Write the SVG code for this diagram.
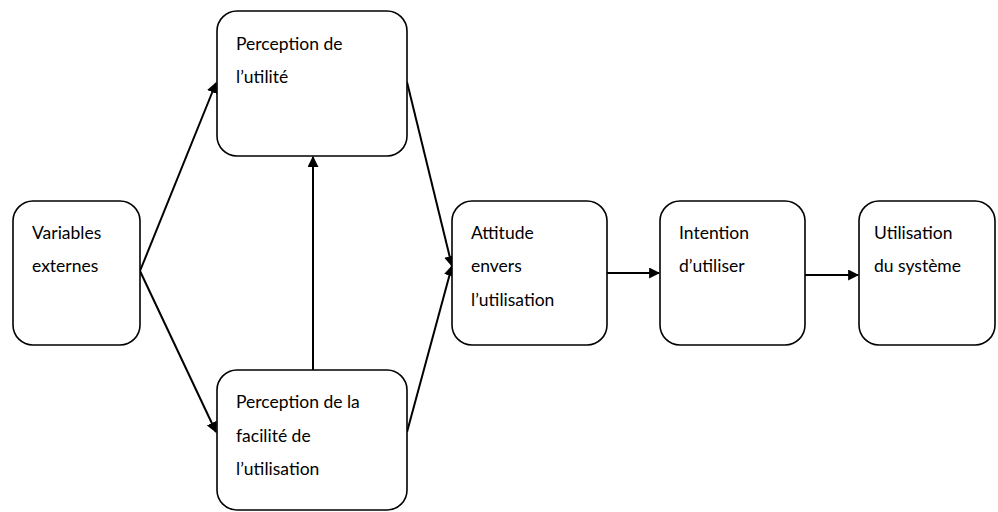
<svg xmlns="http://www.w3.org/2000/svg" width="998" height="512" viewBox="0 0 998 512">
<style>
.box{fill:#fff;stroke:#000;stroke-width:1.6}
.t{font-family:Lato,"Liberation Sans",sans-serif;font-size:17.5px;fill:#000}
.c{stroke:#000;stroke-width:2;fill:none}
</style>
<defs>
<marker id="ah" viewBox="0 0 10 10" refX="9" refY="5" markerWidth="11" markerHeight="11" markerUnits="userSpaceOnUse" orient="auto">
<path d="M0,0 L10,5 L0,10 z" fill="#000"/>
</marker>
</defs>
<rect width="998" height="512" fill="#fff"/>
<g id="connectors">
<line class="c" x1="140" y1="271" x2="216" y2="83" marker-end="url(#ah)"/>
<line class="c" x1="140" y1="271" x2="216" y2="432" marker-end="url(#ah)"/>
<line class="c" x1="313" y1="370" x2="313" y2="157" marker-end="url(#ah)"/>
<line class="c" x1="407" y1="82" x2="452" y2="266" marker-end="url(#ah)"/>
<line class="c" x1="407" y1="432" x2="452" y2="266" marker-end="url(#ah)"/>
<line class="c" x1="607" y1="273" x2="659" y2="273" marker-end="url(#ah)"/>
<line class="c" x1="805" y1="275" x2="858" y2="275" marker-end="url(#ah)"/>
</g>
<g id="variables">
<rect class="box" x="13" y="201" width="127" height="144" rx="20"/>
<text class="t" x="32" y="239">Variables</text>
<text class="t" x="32" y="272">externes</text>
</g>
<g id="utilite">
<rect class="box" x="217" y="11" width="190" height="145" rx="20"/>
<text class="t" x="236" y="50">Perception de</text>
<text class="t" x="236" y="83">l’utilité</text>
</g>
<g id="facilite">
<rect class="box" x="217" y="370" width="190" height="140" rx="20"/>
<text class="t" x="236" y="408">Perception de la</text>
<text class="t" x="236" y="442">facilité de</text>
<text class="t" x="236" y="475">l’utilisation</text>
</g>
<g id="attitude">
<rect class="box" x="452" y="201" width="155" height="144" rx="20"/>
<text class="t" x="471" y="239">Attitude</text>
<text class="t" x="471" y="272">envers</text>
<text class="t" x="471" y="306">l’utilisation</text>
</g>
<g id="intention">
<rect class="box" x="660" y="201" width="145" height="144" rx="20"/>
<text class="t" x="679" y="239">Intention</text>
<text class="t" x="679" y="272">d’utiliser</text>
</g>
<g id="utilisation">
<rect class="box" x="859" y="201" width="136" height="144" rx="20"/>
<text class="t" x="874" y="239">Utilisation</text>
<text class="t" x="874" y="272">du système</text>
</g>
</svg>
